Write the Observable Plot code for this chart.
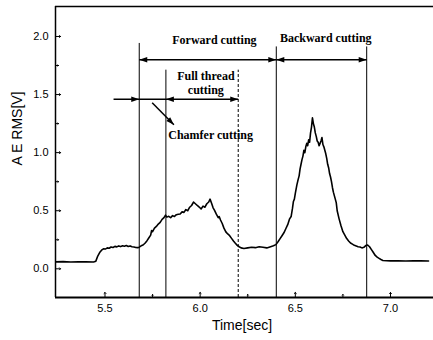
<!DOCTYPE html>
<html><head><meta charset="utf-8">
<script src="https://cdn.jsdelivr.net/npm/d3@7"></script>
<script src="https://cdn.jsdelivr.net/npm/@observablehq/plot@0.6"></script>
<style>body{margin:0;background:#fff;overflow:hidden;color:#000} #chart svg{display:block}</style>
</head><body><div id="chart"></div>
<script>
// ---- data ----
const time = [5.24,5.28,5.32,5.36,5.40,5.44,5.452,5.462,5.472,5.482,5.492,5.502,5.512,5.522,5.532,5.542,5.552,5.562,5.572,5.582,5.592,5.602,5.612,5.622,5.632,5.642,5.652,5.662,5.672,5.68,5.69,5.70,5.71,5.72,5.73,5.74,5.745,5.75,5.76,5.77,5.78,5.79,5.80,5.81,5.818,5.825,5.835,5.845,5.855,5.865,5.875,5.885,5.895,5.905,5.915,5.925,5.935,5.945,5.955,5.965,5.975,5.985,5.995,6.005,6.015,6.025,6.035,6.045,6.052,6.06,6.068,6.075,6.085,6.095,6.10,6.107,6.116,6.125,6.135,6.145,6.155,6.165,6.175,6.185,6.195,6.205,6.215,6.23,6.25,6.27,6.29,6.31,6.33,6.35,6.37,6.385,6.398,6.41,6.42,6.43,6.44,6.45,6.46,6.47,6.478,6.485,6.49,6.495,6.50,6.508,6.515,6.52,6.525,6.53,6.535,6.54,6.545,6.55,6.555,6.56,6.565,6.57,6.575,6.58,6.585,6.59,6.595,6.60,6.605,6.61,6.615,6.62,6.625,6.63,6.635,6.64,6.645,6.65,6.655,6.66,6.665,6.67,6.675,6.68,6.685,6.69,6.695,6.70,6.705,6.71,6.715,6.72,6.73,6.74,6.75,6.76,6.77,6.78,6.79,6.80,6.81,6.82,6.83,6.84,6.85,6.86,6.87,6.88,6.89,6.90,6.91,6.92,6.93,6.94,6.95,6.96,6.98,7.00,7.04,7.08,7.12,7.16,7.20,7.24];
const aeRms = [0.060,0.062,0.058,0.060,0.061,0.059,0.066,0.110,0.140,0.160,0.172,0.170,0.180,0.177,0.188,0.184,0.193,0.189,0.197,0.191,0.199,0.194,0.200,0.192,0.197,0.190,0.188,0.184,0.182,0.186,0.198,0.205,0.220,0.240,0.265,0.290,0.330,0.320,0.350,0.365,0.385,0.400,0.425,0.440,0.462,0.445,0.452,0.440,0.458,0.450,0.466,0.470,0.472,0.490,0.486,0.510,0.500,0.530,0.545,0.575,0.560,0.545,0.532,0.515,0.540,0.530,0.560,0.575,0.600,0.565,0.525,0.505,0.470,0.440,0.450,0.420,0.390,0.350,0.318,0.300,0.285,0.262,0.240,0.220,0.202,0.190,0.180,0.175,0.180,0.185,0.182,0.190,0.185,0.180,0.190,0.198,0.208,0.235,0.260,0.285,0.310,0.345,0.380,0.430,0.450,0.520,0.580,0.600,0.650,0.720,0.770,0.800,0.860,0.900,0.940,0.970,1.020,1.000,1.050,1.080,1.060,1.110,1.090,1.170,1.220,1.300,1.250,1.220,1.170,1.140,1.100,1.090,1.060,1.080,1.100,1.130,1.070,1.050,1.020,0.990,0.950,0.900,0.870,0.820,0.790,0.750,0.700,0.660,0.630,0.600,0.570,0.500,0.430,0.370,0.320,0.290,0.260,0.240,0.222,0.212,0.202,0.196,0.190,0.188,0.180,0.185,0.200,0.205,0.190,0.165,0.140,0.115,0.100,0.090,0.080,0.072,0.070,0.068,0.070,0.067,0.069,0.068,0.067];

const xTicks = [5.5, 6.0, 6.5, 7.0];
const xMinorTicks = [5.75, 6.25, 6.75];
const yTicks = [0, 0.5, 1.0, 1.5, 2.0];
const yMinorTicks = [0.25, 0.75, 1.25, 1.75];

// phase boundaries: time, top of line (V)
const solidCuts = [5.68, 5.82, 6.40, 6.875];
const solidCutTops = [1.94, 1.71, 1.91, 1.91];
const dashedCuts = [6.20];
const dashedCutTops = [1.71];

// horizontal arrow shafts
const shaftStart = [5.68, 6.40, 5.545];
const shaftEnd = [6.40, 6.875, 6.20];
const shaftLevel = [1.80, 1.80, 1.46];

// arrow heads: time, level, direction (0 right, 180 left)
const headTime = [5.68, 6.40, 6.40, 6.875, 5.68, 5.82, 6.20];
const headLevel = [1.80, 1.80, 1.80, 1.80, 1.46, 1.46, 1.46];
const headDir = [180, 0, 180, 0, 0, 180, 0];

// chamfer pointer
const pointerFrom = [5.748, 1.43];
const pointerTo = [5.862, 1.24];

const labelText = ["Forward cutting", "Backward cutting", "Full thread", "cutting", "Chamfer cutting"];
const labelTime = [6.075, 6.66, 6.03, 6.03, 6.055];
const labelLevel = [1.97, 1.985, 1.66, 1.54, 1.15];

// ---- layout ----
const W = 433, H = 340;
const M = {top: 6, right: 0, bottom: 43, left: 55};
const xDomain = [5.24, 7.226], yDomain = [-0.247, 2.258];

const series = time.map((t, i) => ({t, v: aeRms[i]}));
const cuts = solidCuts.map((x, i) => ({x, top: solidCutTops[i]}));
const dcuts = dashedCuts.map((x, i) => ({x, top: dashedCutTops[i]}));
const shafts = shaftStart.map((x1, i) => ({x1, x2: shaftEnd[i], y: shaftLevel[i]}));

const pxX = (W - M.left - M.right) / (xDomain[1] - xDomain[0]);
const pxY = (H - M.top - M.bottom) / (yDomain[1] - yDomain[0]);
const pointerAngle = Math.atan2(-(pointerTo[1] - pointerFrom[1]) * pxY, (pointerTo[0] - pointerFrom[0]) * pxX) * 180 / Math.PI;

const heads = headTime.map((x, i) => ({x, y: headLevel[i], r: headDir[i]}));
heads.push({x: pointerTo[0], y: pointerTo[1], r: pointerAngle});
const labels = labelText.map((s, i) => ({s, x: labelTime[i], y: labelLevel[i]}));

const arrowHead = {draw(ctx) { ctx.moveTo(0, 0); ctx.lineTo(-8, -2.7); ctx.lineTo(-8, 2.7); ctx.closePath(); }};

const sans = "Liberation Sans, Arial, sans-serif";
const serif = "Liberation Serif, Times New Roman, serif";

const chart = Plot.plot({
  width: W, height: H,
  marginTop: M.top, marginRight: M.right, marginBottom: M.bottom, marginLeft: M.left,
  style: {fontFamily: sans, color: "#000", background: "#fff"},
  x: {domain: xDomain},
  y: {domain: yDomain},
  marks: [
    // frame: top, left, bottom
    Plot.ruleY([yDomain[1]], {stroke: "#000", strokeWidth: 1.5}),
    Plot.ruleX([xDomain[0]], {stroke: "#000", strokeWidth: 1.5}),
    Plot.ruleY([yDomain[0]], {stroke: "#000", strokeWidth: 2}),
    // axis labels
    Plot.axisX({ticks: xTicks, tickSize: 0, tickPadding: 7, tickFormat: d3.format(".1f"), fontSize: 11, label: null}),
    Plot.axisY({ticks: yTicks, tickSize: 0, tickPadding: 7, tickFormat: d3.format(".1f"), fontSize: 11, label: null}),
    // inward tick marks
    Plot.vector(xTicks, {x: d => d, frameAnchor: "bottom", length: 5, anchor: "start", rotate: 0, stroke: "#000", strokeWidth: 1}),
    Plot.vector(xMinorTicks, {x: d => d, frameAnchor: "bottom", length: 3, anchor: "start", rotate: 0, stroke: "#000", strokeWidth: 1}),
    Plot.vector(yTicks, {y: d => d, frameAnchor: "left", length: 5, anchor: "start", rotate: 90, stroke: "#000", strokeWidth: 1}),
    Plot.vector(yMinorTicks, {y: d => d, frameAnchor: "left", length: 3, anchor: "start", rotate: 90, stroke: "#000", strokeWidth: 1}),
    // axis titles
    Plot.text(["A E RMS[V]"], {y: 0.89, frameAnchor: "left", dx: -38, rotate: -90, fontSize: 14, fontFamily: sans}),
    Plot.text(["Time[sec]"], {x: 6.22, frameAnchor: "bottom", dy: 32, fontSize: 14, fontFamily: sans}),
    // signal
    Plot.line(series, {x: "t", y: "v", stroke: "#000", strokeWidth: 1.6, clip: true}),
    // phase boundaries
    Plot.ruleX(cuts, {x: "x", y1: yDomain[0], y2: "top", stroke: "#000", strokeWidth: 1}),
    Plot.ruleX(dcuts, {x: "x", y1: yDomain[0], y2: "top", stroke: "#000", strokeWidth: 1, strokeDasharray: "3,2"}),
    // arrows
    Plot.link(shafts, {x1: "x1", x2: "x2", y1: "y", y2: "y", stroke: "#000", strokeWidth: 1.5}),
    Plot.link([{}], {x1: pointerFrom[0], y1: pointerFrom[1], x2: pointerTo[0], y2: pointerTo[1], stroke: "#000", strokeWidth: 1.5}),
    Plot.dot(heads, {x: "x", y: "y", rotate: "r", symbol: arrowHead, fill: "#000", stroke: "none", r: 4}),
    // annotations
    Plot.text(labels, {x: "x", y: "y", text: "s", fontFamily: serif, fontWeight: "bold", fontSize: 12})
  ]
});
document.getElementById("chart").appendChild(chart);
</script>
</body></html>
